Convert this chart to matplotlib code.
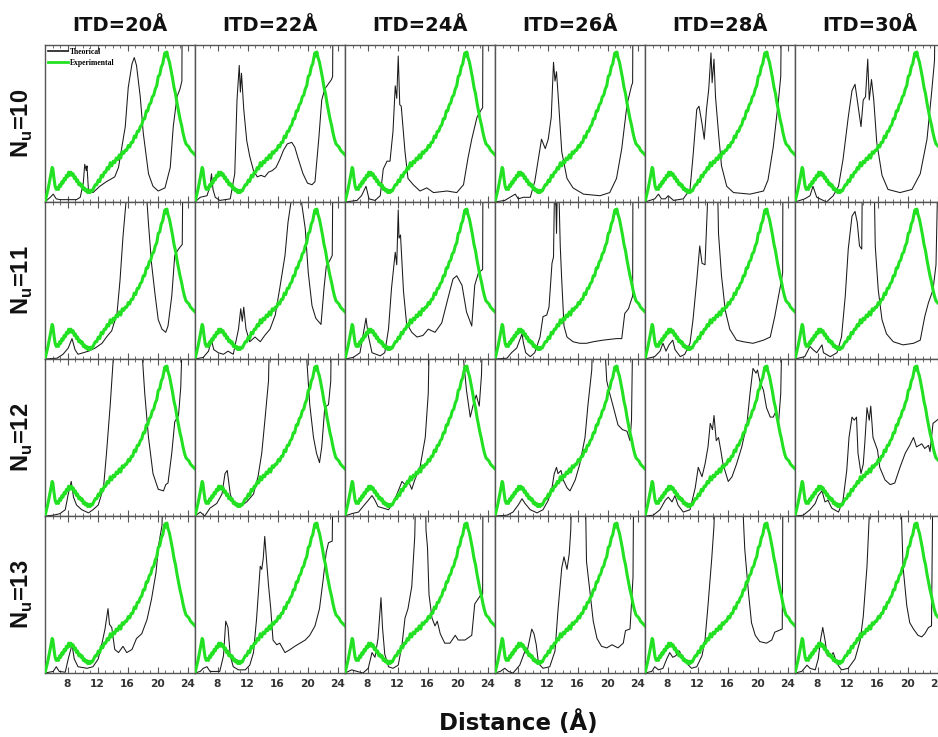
import matplotlib
matplotlib.use("Agg")
import matplotlib.pyplot as plt
import numpy as np
from matplotlib.lines import Line2D
from matplotlib.ticker import MultipleLocator

plt.rcParams["mathtext.fontset"] = "custom"
plt.rcParams["mathtext.bf"] = "Liberation Sans:bold"
plt.rcParams["mathtext.rm"] = "Liberation Sans:bold"

# ── Labels ────────────────────────────────────────────────────────────────────
itd_values = [20, 22, 24, 26, 28, 30]     # columns
nu_values = [10, 11, 12, 13]              # rows
x_ticks = [8, 12, 16, 20, 24]

# ── Experimental curve (same in every panel), normalised height ─────────────
exp_x = [5.0, 5.2, 5.4, 5.6, 5.8, 5.95, 6.05, 6.2, 6.35, 6.5, 6.65, 6.8, 6.95, 7.1,
         7.25, 7.4, 7.55, 7.7, 7.85, 8.0, 8.15, 8.3, 8.45, 8.6, 8.75, 8.9, 9.05,
         9.2, 9.35, 9.5, 9.65, 9.8, 9.95, 10.1, 10.25, 10.4, 10.55, 10.7, 10.85,
         11.0, 11.15, 11.3, 11.5, 11.7, 11.9, 12.1, 12.3, 12.5, 12.7, 12.9, 13.1,
         13.3, 13.5, 13.7, 13.9, 14.1, 14.3, 14.5, 14.7, 14.9, 15.1, 15.3, 15.5,
         15.7, 15.9, 16.1, 16.3, 16.5, 16.7, 16.9, 17.1, 17.3, 17.5, 17.7, 17.9,
         18.1, 18.3, 18.5, 18.7, 18.9, 19.1, 19.3, 19.5, 19.7, 19.9, 20.1, 20.3,
         20.5, 20.7, 20.85, 21.0, 21.1, 21.25, 21.4, 21.6, 21.8, 22.0, 22.2, 22.4,
         22.6, 22.8, 23.0, 23.2, 23.4, 23.6, 23.8, 24.0, 24.2, 24.4, 24.6, 24.8, 25.0]
exp_y = [0.0, 0.04, 0.08, 0.13, 0.18, 0.22, 0.21, 0.15, 0.10, 0.08, 0.09, 0.08, 0.11, 0.10,
         0.13, 0.12, 0.15, 0.14, 0.17, 0.16, 0.19, 0.17, 0.19, 0.17, 0.18, 0.15, 0.16,
         0.13, 0.14, 0.11, 0.12, 0.10, 0.11, 0.08, 0.09, 0.07, 0.08, 0.06, 0.075,
         0.06, 0.075, 0.07, 0.09, 0.11, 0.11, 0.14, 0.13, 0.17, 0.16, 0.19, 0.19,
         0.22, 0.21, 0.25, 0.23, 0.26, 0.25, 0.28, 0.27, 0.30, 0.28, 0.32, 0.31,
         0.33, 0.33, 0.36, 0.35, 0.38, 0.38, 0.42, 0.41, 0.45, 0.45, 0.48, 0.49,
         0.53, 0.53, 0.58, 0.58, 0.62, 0.63, 0.67, 0.68, 0.72, 0.74, 0.80, 0.81,
         0.86, 0.88, 0.92, 0.95, 0.93, 0.955, 0.92, 0.89, 0.84, 0.79, 0.73, 0.69,
         0.63, 0.58, 0.53, 0.49, 0.44, 0.40, 0.37, 0.36, 0.35, 0.33, 0.32, 0.31, 0.30]

# ── Theoretical curves, one per (N_u, ITD) panel; values > 1 run off the top ─
th_10_20 = [(5.0, 0.0), (5.7, 0.03), (6.1, 0.05), (6.5, 0.02), (7.0, 0.015), (8.0, 0.015),
            (9.2, 0.015), (9.7, 0.03), (10.1, 0.12), (10.3, 0.24), (10.5, 0.2), (10.6, 0.23),
            (10.8, 0.07), (11.4, 0.06), (12.3, 0.1), (13.2, 0.13), (14.3, 0.16), (14.8, 0.22),
            (15.7, 0.48), (16.1, 0.73), (16.6, 0.88), (16.9, 0.92), (17.2, 0.87), (17.7, 0.67),
            (18.1, 0.44), (18.8, 0.18), (19.4, 0.1), (20.1, 0.07), (21.0, 0.09), (21.7, 0.22),
            (22.1, 0.48), (22.6, 0.67), (23.0, 0.72), (23.25, 0.77), (23.3, 1.3), (25.0, 1.3)]
th_10_22 = [(5.0, 0.0), (5.7, 0.03), (6.6, 0.04), (7.0, 0.1), (7.2, 0.18), (7.4, 0.08),
            (7.7, 0.03), (8.3, 0.01), (9.7, 0.02), (10.3, 0.18), (10.6, 0.65), (10.9, 0.87),
            (11.05, 0.7), (11.2, 0.82), (11.5, 0.59), (11.9, 0.39), (12.3, 0.29), (12.8, 0.2),
            (13.3, 0.16), (13.8, 0.17), (14.3, 0.16), (14.8, 0.19), (15.3, 0.2), (15.8, 0.22),
            (16.3, 0.27), (16.8, 0.33), (17.3, 0.37), (17.9, 0.38), (18.3, 0.35), (18.8, 0.27),
            (19.4, 0.18), (20.0, 0.12), (20.6, 0.11), (21.0, 0.13), (21.5, 0.4), (21.9, 0.65),
            (22.3, 0.72), (23.2, 0.78), (23.35, 0.8), (23.4, 1.3), (25.0, 1.3)]
th_10_24 = [(5.0, 0.0), (6.6, 0.01), (7.2, 0.04), (7.8, 0.1), (8.2, 0.02), (9.0, 0.01),
            (9.7, 0.04), (10.1, 0.21), (10.6, 0.26), (11.0, 0.26), (11.4, 0.45), (11.7, 0.74),
            (11.9, 0.66), (12.1, 0.93), (12.3, 0.62), (12.5, 0.61), (13.0, 0.32), (13.4, 0.15),
            (14.1, 0.11), (15.0, 0.07), (15.9, 0.09), (16.8, 0.06), (18.6, 0.07), (19.9, 0.06),
            (20.8, 0.11), (21.4, 0.28), (21.9, 0.4), (22.6, 0.54), (23.2, 0.59), (23.35, 0.6),
            (23.4, 1.3), (25.0, 1.3)]
th_10_26 = [(5.0, 0.0), (6.3, 0.01), (7.0, 0.03), (7.7, 0.05), (8.1, 0.02), (8.8, 0.03),
            (9.7, 0.03), (10.3, 0.13), (10.8, 0.28), (11.2, 0.4), (11.7, 0.34), (12.1, 0.4),
            (12.5, 0.54), (12.8, 0.89), (13.0, 0.77), (13.2, 0.83), (13.5, 0.62), (13.9, 0.32),
            (14.6, 0.15), (15.4, 0.09), (16.8, 0.05), (19.0, 0.04), (20.3, 0.06), (21.2, 0.15),
            (21.9, 0.34), (22.6, 0.62), (23.2, 0.74), (23.35, 0.76), (23.4, 1.3), (25.0, 1.3)]
th_10_28 = [(5.0, 0.0), (6.3, 0.02), (6.8, 0.05), (7.2, 0.02), (7.7, 0.02), (8.1, 0.04),
            (8.8, 0.01), (10.1, 0.02), (11.0, 0.08), (11.4, 0.29), (11.9, 0.59), (12.2, 0.61),
            (12.6, 0.5), (12.9, 0.4), (13.2, 0.59), (13.5, 0.72), (13.8, 0.95), (13.95, 0.76),
            (14.2, 0.91), (14.4, 0.67), (14.8, 0.44), (15.2, 0.23), (15.9, 0.1), (16.8, 0.06),
            (19.0, 0.05), (20.8, 0.07), (21.4, 0.14), (22.1, 0.35), (22.8, 0.65), (23.1, 0.8),
            (23.2, 1.3), (25.0, 1.3)]
th_10_30 = [(5.0, 0.0), (6.3, 0.02), (7.0, 0.04), (7.4, 0.1), (7.9, 0.03), (9.2, 0.0),
            (10.1, 0.04), (10.8, 0.1), (11.4, 0.27), (12.1, 0.54), (12.6, 0.71), (13.0, 0.75),
            (13.3, 0.65), (13.8, 0.48), (14.1, 0.65), (14.4, 0.67), (14.7, 0.91), (14.9, 0.65),
            (15.2, 0.78), (15.5, 0.65), (15.9, 0.38), (16.6, 0.17), (17.4, 0.08), (19.0, 0.06),
            (20.6, 0.08), (21.7, 0.18), (22.6, 0.4), (23.2, 0.69), (23.6, 0.9), (23.7, 1.3),
            (25.0, 1.3)]

th_11_20 = [(5.0, 0.0), (6.6, 0.005), (7.4, 0.03), (8.1, 0.07), (8.6, 0.13), (9.0, 0.06),
            (9.4, 0.03), (10.1, 0.04), (10.8, 0.05), (11.7, 0.07), (12.6, 0.1), (13.2, 0.14),
            (13.9, 0.18), (14.6, 0.29), (15.0, 0.5), (15.4, 0.78), (15.8, 1.0), (15.9, 1.3),
            (18.5, 1.3), (18.6, 1.0), (18.8, 0.86), (19.2, 0.61), (19.7, 0.4), (20.1, 0.25),
            (20.6, 0.19), (21.1, 0.17), (21.4, 0.21), (21.9, 0.4), (22.3, 0.66), (22.8, 0.7),
            (23.3, 0.73), (23.4, 1.3), (25.0, 1.3)]
th_11_22 = [(5.0, 0.0), (6.1, 0.01), (6.8, 0.05), (7.2, 0.12), (7.5, 0.06), (8.1, 0.04),
            (8.8, 0.03), (9.4, 0.05), (10.1, 0.03), (10.8, 0.19), (11.1, 0.32), (11.3, 0.24),
            (11.5, 0.33), (11.8, 0.19), (12.3, 0.11), (13.0, 0.14), (13.7, 0.11), (14.3, 0.15),
            (15.0, 0.19), (15.7, 0.28), (16.3, 0.45), (17.0, 0.66), (17.4, 0.87), (17.8, 1.0),
            (17.9, 1.3), (19.1, 1.3), (19.2, 1.0), (19.7, 0.83), (20.1, 0.55), (20.6, 0.34),
            (21.1, 0.26), (21.8, 0.22), (22.2, 0.45), (22.5, 0.59), (23.0, 0.63), (23.3, 0.66),
            (23.4, 1.3), (25.0, 1.3)]
th_11_24 = [(5.0, 0.0), (6.1, 0.01), (7.0, 0.04), (7.4, 0.15), (7.8, 0.26), (8.1, 0.15),
            (8.6, 0.04), (9.7, 0.02), (10.3, 0.04), (10.8, 0.19), (11.2, 0.45), (11.7, 0.68),
            (11.9, 0.6), (12.1, 0.95), (12.2, 0.77), (12.4, 0.79), (12.8, 0.43), (13.2, 0.23),
            (13.9, 0.17), (14.6, 0.14), (15.4, 0.15), (16.1, 0.19), (17.0, 0.17), (17.9, 0.23),
            (18.8, 0.4), (19.4, 0.51), (19.9, 0.53), (20.6, 0.47), (21.2, 0.3), (21.9, 0.21),
            (22.3, 0.47), (22.8, 0.55), (23.35, 0.57), (23.4, 1.3), (25.0, 1.3)]
th_11_26 = [(5.0, 0.0), (6.6, 0.005), (7.2, 0.04), (7.9, 0.07), (8.6, 0.16), (8.8, 0.1),
            (9.1, 0.04), (9.7, 0.015), (10.3, 0.04), (11.0, 0.14), (11.4, 0.27), (11.9, 0.28),
            (12.2, 0.33), (12.6, 0.61), (12.8, 0.65), (13.0, 1.3), (13.2, 0.8), (13.4, 1.3),
            (13.7, 0.72), (13.9, 0.5), (14.2, 0.21), (14.6, 0.14), (15.4, 0.11), (16.3, 0.1),
            (17.2, 0.1), (18.1, 0.11), (19.4, 0.12), (21.2, 0.13), (21.9, 0.13), (22.3, 0.29),
            (22.8, 0.32), (23.2, 0.38), (23.35, 0.4), (23.4, 1.3), (25.0, 1.3)]
th_11_28 = [(5.0, 0.0), (6.3, 0.015), (7.0, 0.05), (7.4, 0.1), (7.8, 0.05), (8.2, 0.09),
            (8.7, 0.12), (9.0, 0.06), (9.7, 0.015), (10.3, 0.03), (11.0, 0.1), (11.4, 0.25),
            (11.9, 0.5), (12.3, 0.72), (12.6, 0.61), (13.0, 0.6), (13.3, 0.95), (13.5, 1.3),
            (14.6, 1.3), (14.8, 0.8), (15.2, 0.53), (15.7, 0.31), (16.3, 0.19), (17.2, 0.12),
            (18.1, 0.11), (19.4, 0.1), (20.8, 0.12), (21.7, 0.14), (22.3, 0.27), (22.8, 0.4),
            (23.2, 0.5), (23.35, 0.55), (23.4, 1.3), (25.0, 1.3)]
th_11_30 = [(5.0, 0.0), (6.3, 0.015), (7.0, 0.08), (7.4, 0.06), (7.9, 0.04), (8.6, 0.09),
            (8.8, 0.04), (9.7, 0.015), (10.6, 0.04), (11.2, 0.14), (11.7, 0.4), (12.1, 0.7),
            (12.6, 0.91), (13.0, 0.94), (13.3, 0.87), (13.6, 0.72), (13.9, 0.7), (14.0, 1.3),
            (15.5, 1.3), (15.7, 0.72), (16.1, 0.44), (16.6, 0.25), (17.2, 0.16), (18.1, 0.11),
            (19.4, 0.09), (20.8, 0.1), (21.7, 0.12), (22.3, 0.27), (22.8, 0.36), (23.4, 0.44),
            (23.8, 0.6), (24.1, 1.3), (25.0, 1.3)]

th_12_20 = [(5.0, 0.0), (6.1, 0.005), (7.0, 0.015), (7.7, 0.04), (8.1, 0.14), (8.5, 0.22),
            (8.8, 0.12), (9.2, 0.07), (9.9, 0.04), (10.8, 0.02), (11.4, 0.04), (12.1, 0.07),
            (12.8, 0.18), (13.2, 0.4), (13.7, 0.71), (14.1, 1.0), (14.2, 1.3), (17.9, 1.3),
            (18.0, 1.0), (18.3, 0.78), (18.8, 0.5), (19.4, 0.27), (20.1, 0.17), (20.8, 0.16),
            (21.1, 0.2), (21.4, 0.21), (21.9, 0.4), (22.3, 0.6), (22.8, 0.64), (23.1, 0.82),
            (23.4, 1.3), (25.0, 1.3)]
th_12_22 = [(5.0, 0.0), (5.7, 0.025), (6.3, 0.0), (7.0, 0.05), (7.9, 0.08), (8.6, 0.14),
            (9.0, 0.27), (9.3, 0.29), (9.7, 0.14), (10.1, 0.08), (11.0, 0.06), (11.9, 0.09),
            (12.8, 0.14), (13.4, 0.25), (13.9, 0.4), (14.3, 0.6), (14.8, 0.86), (15.0, 1.3),
            (19.8, 1.3), (19.9, 1.0), (20.3, 0.71), (20.8, 0.5), (21.2, 0.4), (21.6, 0.34),
            (21.9, 0.44), (22.3, 0.69), (22.8, 0.71), (23.1, 0.86), (23.2, 1.3), (25.0, 1.3)]
th_12_24 = [(5.0, 0.0), (5.9, 0.015), (6.8, 0.025), (7.4, 0.06), (8.1, 0.1), (8.6, 0.13),
            (9.0, 0.1), (9.4, 0.06), (10.1, 0.05), (10.8, 0.04), (11.4, 0.08), (12.1, 0.16),
            (12.6, 0.22), (13.0, 0.2), (13.4, 0.23), (13.9, 0.17), (14.3, 0.23), (15.0, 0.31),
            (15.7, 0.5), (16.1, 0.78), (16.3, 1.3), (20.7, 1.3), (20.8, 1.0), (21.2, 0.8),
            (21.7, 0.63), (22.1, 0.71), (22.5, 0.77), (22.9, 0.7), (23.2, 0.9), (23.4, 1.3),
            (25.0, 1.3)]
th_12_26 = [(5.0, 0.0), (6.6, 0.005), (7.4, 0.025), (8.1, 0.07), (8.6, 0.11), (9.0, 0.08),
            (9.7, 0.04), (10.6, 0.02), (11.4, 0.04), (12.1, 0.1), (12.6, 0.18), (12.9, 0.27),
            (13.2, 0.31), (13.4, 0.27), (13.8, 0.29), (14.1, 0.23), (14.6, 0.18), (15.0, 0.16),
            (15.7, 0.23), (16.3, 0.33), (17.0, 0.5), (17.4, 0.71), (17.9, 0.93), (18.1, 1.3),
            (19.4, 1.3), (19.9, 0.86), (20.3, 0.78), (20.8, 0.69), (21.4, 0.58), (22.0, 0.55),
            (22.6, 0.54), (23.0, 0.48), (23.2, 0.61), (23.4, 1.3), (25.0, 1.3)]
th_12_28 = [(5.0, 0.0), (6.1, 0.005), (7.0, 0.04), (7.7, 0.1), (8.1, 0.12), (8.6, 0.09),
            (9.0, 0.13), (9.4, 0.07), (10.1, 0.025), (11.0, 0.04), (11.7, 0.18), (12.1, 0.31),
            (12.6, 0.25), (13.0, 0.33), (13.4, 0.44), (13.7, 0.59), (14.0, 0.55), (14.2, 0.64),
            (14.5, 0.48), (14.8, 0.5), (15.1, 0.42), (15.4, 0.33), (16.1, 0.22), (16.6, 0.25),
            (17.2, 0.33), (17.9, 0.44), (18.6, 0.59), (19.0, 0.78), (19.4, 0.94), (19.8, 0.91),
            (20.0, 0.93), (20.3, 0.86), (20.8, 0.8), (21.2, 0.69), (21.7, 0.63), (22.1, 0.63),
            (22.4, 0.66), (22.8, 0.59), (23.1, 0.78), (23.3, 1.3), (25.0, 1.3)]
th_12_30 = [(5.0, 0.0), (6.1, 0.005), (7.0, 0.04), (7.7, 0.08), (8.1, 0.13), (8.6, 0.16),
            (9.0, 0.09), (9.4, 0.1), (9.9, 0.05), (10.8, 0.025), (11.4, 0.1), (11.9, 0.29),
            (12.2, 0.5), (12.6, 0.63), (12.9, 0.61), (13.2, 0.63), (13.4, 0.4), (13.8, 0.27),
            (14.1, 0.33), (14.3, 0.46), (14.6, 0.69), (14.9, 0.61), (15.1, 0.7), (15.4, 0.5),
            (15.7, 0.46), (16.0, 0.42), (16.3, 0.31), (17.0, 0.23), (17.7, 0.2), (18.3, 0.21),
            (19.0, 0.31), (19.7, 0.4), (20.3, 0.45), (20.8, 0.5), (21.2, 0.44), (21.9, 0.46),
            (22.3, 0.43), (22.8, 0.45), (23.0, 0.41), (23.4, 0.59), (24.2, 0.62), (25.0, 0.62)]

th_13_20 = [(5.0, 0.0), (6.1, 0.01), (6.5, 0.04), (6.9, 0.01), (7.7, 0.005), (8.1, 0.09),
            (8.6, 0.18), (8.9, 0.09), (9.4, 0.04), (10.6, 0.03), (11.4, 0.04), (12.1, 0.09),
            (12.6, 0.19), (13.0, 0.28), (13.4, 0.41), (13.6, 0.31), (13.9, 0.29), (14.3, 0.15),
            (14.8, 0.13), (15.4, 0.17), (15.9, 0.13), (16.6, 0.15), (17.2, 0.22), (17.9, 0.25),
            (18.6, 0.34), (19.2, 0.47), (19.8, 0.64), (20.2, 0.83), (20.6, 0.94), (20.8, 1.3),
            (25.0, 1.3)]
th_13_22 = [(5.0, 0.0), (5.7, 0.01), (6.1, 0.03), (6.6, 0.04), (7.0, 0.01), (8.3, 0.01),
            (8.8, 0.11), (9.1, 0.33), (9.4, 0.29), (9.7, 0.11), (10.1, 0.04), (10.8, 0.02),
            (11.7, 0.02), (12.3, 0.05), (12.8, 0.13), (13.2, 0.34), (13.7, 0.68), (13.9, 0.66),
            (14.1, 0.73), (14.3, 0.87), (14.6, 0.68), (14.8, 0.56), (15.1, 0.41), (15.4, 0.21),
            (15.9, 0.18), (16.3, 0.19), (17.0, 0.13), (17.7, 0.15), (18.3, 0.17), (19.0, 0.19),
            (19.7, 0.21), (20.3, 0.24), (21.0, 0.3), (21.6, 0.41), (22.1, 0.6), (22.5, 0.77),
            (22.8, 0.83), (23.3, 0.84), (23.4, 1.3), (25.0, 1.3)]
th_13_24 = [(5.0, 0.0), (5.9, 0.02), (6.6, 0.01), (7.4, 0.0), (8.1, 0.03), (8.6, 0.13),
            (9.0, 0.1), (9.4, 0.22), (9.8, 0.48), (10.0, 0.29), (10.3, 0.12), (10.8, 0.04),
            (11.4, 0.03), (12.1, 0.05), (12.6, 0.18), (13.0, 0.35), (13.4, 0.41), (13.9, 0.55),
            (14.3, 0.87), (14.5, 1.3), (15.7, 1.3), (15.8, 0.91), (16.0, 0.8), (16.2, 0.5),
            (16.6, 0.35), (17.0, 0.3), (17.3, 0.33), (17.7, 0.25), (18.3, 0.19), (19.0, 0.19),
            (19.7, 0.24), (20.1, 0.21), (21.0, 0.21), (21.9, 0.24), (22.3, 0.44), (23.0, 0.49),
            (23.35, 0.5), (23.4, 1.3), (25.0, 1.3)]
th_13_26 = [(5.0, 0.0), (5.7, 0.01), (6.3, 0.03), (6.8, 0.01), (7.4, 0.0), (8.3, 0.05),
            (9.0, 0.14), (9.3, 0.14), (9.9, 0.28), (10.2, 0.25), (10.5, 0.18), (10.8, 0.06),
            (11.4, 0.03), (12.3, 0.04), (13.0, 0.14), (13.4, 0.4), (13.9, 0.67), (14.2, 0.74),
            (14.6, 0.66), (14.9, 0.76), (15.1, 0.91), (15.3, 1.3), (17.0, 1.3), (17.2, 0.71),
            (17.7, 0.5), (18.1, 0.33), (18.6, 0.22), (19.2, 0.17), (19.9, 0.16), (20.6, 0.18),
            (21.4, 0.16), (22.1, 0.19), (22.4, 0.27), (23.0, 0.28), (23.4, 0.61), (23.5, 1.3),
            (25.0, 1.3)]
th_13_28 = [(5.0, 0.0), (5.9, 0.01), (6.3, 0.04), (6.8, 0.02), (7.4, 0.03), (7.9, 0.09),
            (8.3, 0.13), (8.7, 0.1), (9.1, 0.11), (9.6, 0.14), (10.0, 0.09), (10.6, 0.06),
            (11.2, 0.03), (11.9, 0.04), (12.6, 0.11), (13.0, 0.21), (13.4, 0.43), (13.9, 0.73),
            (14.2, 0.94), (14.4, 1.3), (18.0, 1.3), (18.1, 1.0), (18.3, 0.79), (18.8, 0.51),
            (19.2, 0.32), (19.7, 0.24), (20.3, 0.2), (21.2, 0.19), (21.9, 0.21), (22.3, 0.26),
            (22.8, 0.27), (23.3, 0.28), (23.4, 1.3), (25.0, 1.3)]
th_13_30 = [(5.0, 0.0), (5.9, 0.01), (6.6, 0.05), (7.0, 0.03), (7.7, 0.02), (8.1, 0.09),
            (8.4, 0.21), (8.7, 0.29), (9.0, 0.21), (9.3, 0.11), (9.8, 0.11), (10.1, 0.13),
            (10.6, 0.06), (11.2, 0.02), (12.1, 0.03), (13.0, 0.09), (13.7, 0.21), (14.1, 0.36),
            (14.6, 0.68), (14.9, 1.0), (15.0, 1.3), (19.1, 1.3), (19.2, 1.0), (19.4, 0.68),
            (19.9, 0.43), (20.3, 0.32), (20.8, 0.28), (21.4, 0.24), (21.9, 0.23), (22.3, 0.25),
            (22.8, 0.29), (23.2, 0.3), (23.4, 1.3), (25.0, 1.3)]

theory = [
    [th_10_20, th_10_22, th_10_24, th_10_26, th_10_28, th_10_30],
    [th_11_20, th_11_22, th_11_24, th_11_26, th_11_28, th_11_30],
    [th_12_20, th_12_22, th_12_24, th_12_26, th_12_28, th_12_30],
    [th_13_20, th_13_22, th_13_24, th_13_26, th_13_28, th_13_30],
]

GREEN = "#22e022"
BLACK = "#1a1a1a"
FRAME = "#555555"

W, H = 938, 737
fig = plt.figure(figsize=(W / 100, H / 100), dpi=100)

# panel grid in pixels (the last column runs past the right edge, as in the source)
x0, pw = 45, 150
y0, ph = 45, 157

for r, nu in enumerate(nu_values):
    for c, itd in enumerate(itd_values):
        left = (x0 + c * pw) / W
        bottom = (H - (y0 + (r + 1) * ph)) / H
        ax = fig.add_axes([left, bottom, pw / W, ph / H])
        pts = np.array(theory[r][c])
        ax.plot(pts[:, 0], pts[:, 1], color=BLACK, lw=0.75, zorder=2)
        ax.plot(exp_x, exp_y, color=GREEN, lw=2.2, zorder=3)
        ax.set_xlim(5, 25)
        ax.set_ylim(0, 1)
        ax.set_yticks([])
        ax.set_xticks(x_ticks)
        ax.xaxis.set_minor_locator(MultipleLocator(1))
        ax.tick_params(axis="x", which="both", direction="in", top=True,
                       colors=FRAME, labelcolor="#333333")
        ax.tick_params(axis="x", which="major", length=4, width=0.8)
        ax.tick_params(axis="x", which="minor", length=2, width=0.6)
        for s in ax.spines.values():
            s.set_color(FRAME)
            s.set_linewidth(1.0)
        if r == len(nu_values) - 1:
            ax.set_xticklabels([str(t) for t in x_ticks], fontsize=7.7,
                               fontweight="bold", family="DejaVu Sans")
            ax.tick_params(axis="x", pad=4)
        else:
            ax.set_xticklabels([])
        if r == 0:
            ax.set_title(f"ITD={itd}Å", fontsize=14, fontweight="bold",
                         family="DejaVu Sans", pad=10, color="#111111")
        if c == 0:
            fig.text(22 / W, 1 - (y0 + (r + 0.5) * ph) / H,
                     r"N$_\mathbf{u}$=" + str(nu), rotation=90, ha="center",
                     va="center", fontsize=17, fontweight="bold",
                     family="Liberation Sans", color="#111111")
        if r == 0 and c == 0:
            handles = [Line2D([0], [0], color=BLACK, lw=1.2, label="Theorical"),
                       Line2D([0], [0], color=GREEN, lw=2.0, label="Experimental")]
            ax.legend(handles=handles, loc="upper left", frameon=False,
                      prop={"family": "Liberation Serif", "weight": "bold", "size": 5.5},
                      handlelength=2.6, handletextpad=0.2, borderpad=0.3,
                      borderaxespad=0.1, labelspacing=0.35)

fig.text(518 / W, 1 - 723 / H, "Distance (Å)", ha="center", va="center",
         fontsize=16.5, fontweight="bold", family="DejaVu Sans", color="#111111")

plt.savefig("out.png", dpi=100)
plt.close()
